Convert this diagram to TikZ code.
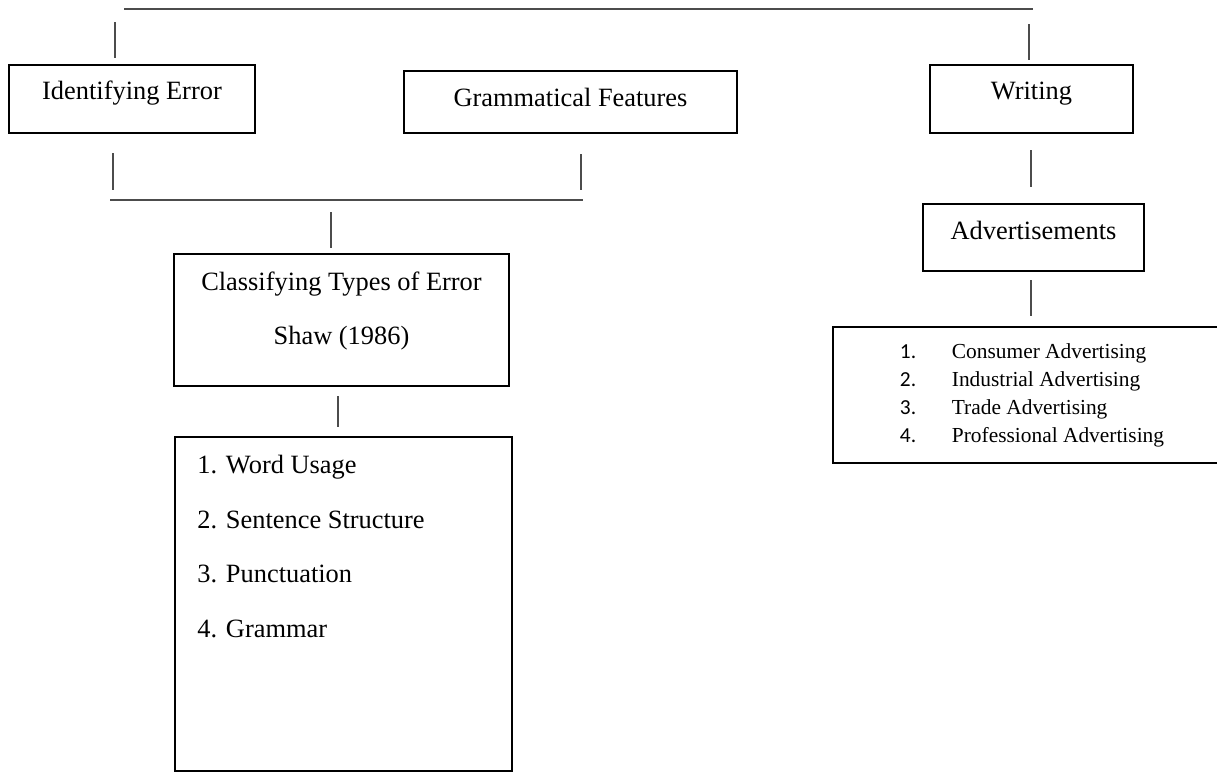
\documentclass[tikz,border=0pt]{standalone}
\usepackage{fontspec}
\setmainfont{Liberation Serif}
\newfontfamily\numfont{Carlito}

\begin{document}
\begin{tikzpicture}[
  x=0.5pt, y=-0.5pt,
  box/.style   = {draw, line width=1pt, inner sep=0pt},
  title/.style = {box, font=\fontsize{13.2pt}{16pt}\selectfont, text height=9pt, text depth=#1},
  items/.style = {inner sep=0pt, font=\fontsize{13.2pt}{#1}\selectfont},
  link/.style  = {draw=black!70, line width=0.6pt}
]
  \useasboundingbox (0,0) rectangle (1217,772);

  % top row
  \node[title=8.3pt, minimum width=123pt,   minimum height=34pt]   (ident)    at (132,99)      {Identifying Error};
  \node[title=4.8pt, minimum width=166.5pt, minimum height=31pt]   (gramfeat) at (570.5,102)   {Grammatical Features};
  \node[title=8.3pt, minimum width=101.5pt, minimum height=34pt]   (writing)  at (1031.5,99)   {Writing};
  \node[title=6.8pt, minimum width=110.5pt, minimum height=33.5pt] (advert)   at (1033.5,237.5) {Advertisements};

  % left branch
  \node[box, minimum width=167.5pt, minimum height=66pt] (classif) at (341.5,320) {};
  \node[items=27pt, align=center, anchor=north] (classiftxt) at (341.5,272)
    {Classifying Types of Error\\Shaw (1986)};
  \node[box, minimum width=168.5pt, minimum height=166.75pt] (errbox) at (343.5,603.75) {};
  \node[items=27.3pt, align=left, anchor=north west] (errtypes) at (197,455)
    {1. Word Usage\\2. Sentence Structure\\3. Punctuation\\4. Grammar};

  % right branch
  \node[box, minimum width=193.5pt, minimum height=68pt,
        font=\fontsize{10.7pt}{13.85pt}\selectfont] (adtypes) at (1026.5,395)
    {\hspace*{5.5pt}\begin{tabular}{@{}p{26pt}@{}l@{}}
      {\numfont 1.} & Consumer Advertising\\
      {\numfont 2.} & Industrial Advertising\\
      {\numfont 3.} & Trade Advertising\\
      {\numfont 4.} & Professional Advertising
    \end{tabular}};

  % line ends
  \coordinate (topL)   at (124,9);   \coordinate (topR)   at (1033,9);
  \coordinate (identA) at (115,22);  \coordinate (identB) at (115,58);
  \coordinate (writA)  at (1029,24); \coordinate (writB)  at (1029,60);
  \coordinate (identC) at (113,153); \coordinate (identD) at (113,190);
  \coordinate (gramC)  at (581,154); \coordinate (gramD)  at (581,190);
  \coordinate (joinL)  at (110,200); \coordinate (joinR)  at (583,200);
  \coordinate (classA) at (331,212); \coordinate (classB) at (331,248);
  \coordinate (classC) at (338,396); \coordinate (classD) at (338,427);
  \coordinate (writC)  at (1031,150); \coordinate (writD) at (1031,187);
  \coordinate (advC)   at (1031,280); \coordinate (advD)  at (1031,316);

  \draw[link] (topL) -- (topR);
  \draw[link] (identA) -- (identB);
  \draw[link] (writA) -- (writB);
  \draw[link] (identC) -- (identD);
  \draw[link] (gramC) -- (gramD);
  \draw[link] (joinL) -- (joinR);
  \draw[link] (classA) -- (classB);
  \draw[link] (classC) -- (classD);
  \draw[link] (writC) -- (writD);
  \draw[link] (advC) -- (advD);
\end{tikzpicture}
\end{document}
